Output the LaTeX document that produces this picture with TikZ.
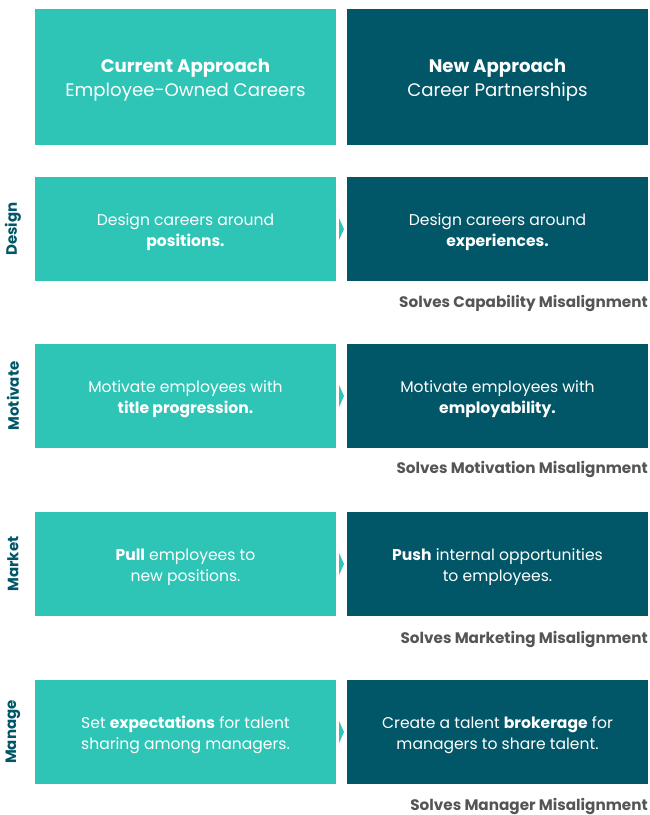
\documentclass[tikz,border=0pt]{standalone}
\usepackage{fontspec}
\setmainfont{Poppins}
\usetikzlibrary{calc}

\definecolor{tealbox}{RGB}{46,196,182}
\definecolor{darkbox}{RGB}{1,86,104}
\definecolor{solvegray}{RGB}{85,85,85}

\tikzset{
  oldbox/.style={fill=tealbox, text=white, inner sep=0pt, minimum width=9.03cm, minimum height=3.12cm, align=center, font=\fontsize{13.3}{17.9}\selectfont},
  newbox/.style={oldbox, fill=darkbox},
  headbox/.style={minimum height=4.08cm, font=\fontsize{15.5}{20.5}\selectfont},
  rowlabel/.style={rotate=90, text=darkbox, font=\fontsize{12.8}{14}\selectfont\bfseries},
  solves/.style={anchor=east, text=solvegray, inner sep=0pt, font=\fontsize{13}{14}\selectfont\bfseries},
  pointer/.style={fill=tealbox}
}

\begin{document}
\begin{tikzpicture}[x=0.03cm, y=-0.03cm]

\useasboundingbox (0,0) rectangle (650,815);

% headers
\node [oldbox, headbox] (hl) at (185.5,77) {\rule{0pt}{0.6cm}\textbf{Current Approach}\\Employee-Owned Careers};
\node [newbox, headbox] (hr) at (497.5,77) {\rule{0pt}{0.6cm}\textbf{New Approach}\\Career Partnerships};

% design
\node [oldbox] (l1) at (185.5,229) {\rule{0pt}{0.56cm}Design careers around\\\textbf{positions.}};
\node [newbox] (r1) at (497.5,229) {\rule{0pt}{0.56cm}Design careers around\\\textbf{experiences.}};
\node [rowlabel] (d1) at (13,229) {Design};
\node [solves] (s1) at (648,303) {Solves Capability Misalignment};

% motivate
\node [oldbox] (l2) at (185.5,396) {\rule{0pt}{0.56cm}Motivate employees with\\\textbf{title progression.}};
\node [newbox] (r2) at (497.5,396) {\rule{0pt}{0.56cm}Motivate employees with\\\textbf{employability.}};
\node [rowlabel] (d2) at (13,396) {Motivate};
\node [solves] (s2) at (648,469) {Solves Motivation Misalignment};

% market
\node [oldbox] (l3) at (185.5,564) {\rule{0pt}{0.56cm}\textbf{Pull} employees to\\new positions.};
\node [newbox] (r3) at (497.5,564) {\rule{0pt}{0.56cm}\textbf{Push} internal opportunities\\to employees.};
\node [rowlabel] (d3) at (13,564) {Market};
\node [solves] (s3) at (648,639) {Solves Marketing Misalignment};

% manage
\node [oldbox] (l4) at (185.5,732) {\rule{0pt}{0.56cm}Set \textbf{expectations} for talent\\sharing among managers.};
\node [newbox] (r4) at (497.5,732) {\rule{0pt}{0.56cm}Create a talent \textbf{brokerage} for\\managers to share talent.};
\node [rowlabel] (d4) at (13,732) {Manage};
\node [solves] (s4) at (648,806) {Solves Manager Misalignment};

% small pointers between the boxes
\coordinate (m1) at ($(l1.east)!.5!(r1.west)$);
\coordinate (m2) at ($(l2.east)!.5!(r2.west)$);
\coordinate (m3) at ($(l3.east)!.5!(r3.west)$);
\coordinate (m4) at ($(l4.east)!.5!(r4.west)$);
\fill [pointer] ($(m1)+(-2.5,-11)$) -- ($(m1)+(2.5,0)$) -- ($(m1)+(-2.5,11)$) -- cycle;
\fill [pointer] ($(m2)+(-2.5,-11)$) -- ($(m2)+(2.5,0)$) -- ($(m2)+(-2.5,11)$) -- cycle;
\fill [pointer] ($(m3)+(-2.5,-11)$) -- ($(m3)+(2.5,0)$) -- ($(m3)+(-2.5,11)$) -- cycle;
\fill [pointer] ($(m4)+(-2.5,-11)$) -- ($(m4)+(2.5,0)$) -- ($(m4)+(-2.5,11)$) -- cycle;

\end{tikzpicture}
\end{document}
